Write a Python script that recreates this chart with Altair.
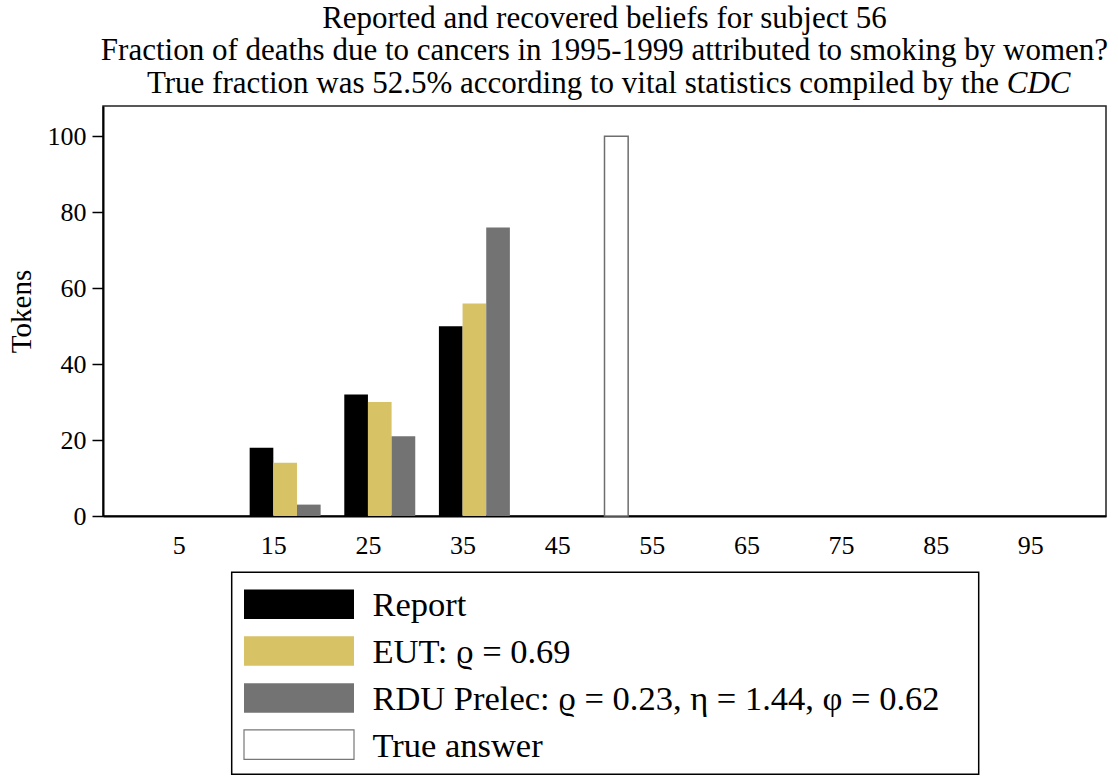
import altair as alt
import pandas as pd

# ---- data ----
bins = [5, 15, 25, 35, 45, 55, 65, 75, 85, 95]
report = [0, 18, 32, 50, 0, 0, 0, 0, 0, 0]
eut = [0, 14, 30, 56, 0, 0, 0, 0, 0, 0]
rdu = [0, 3, 21, 76, 0, 0, 0, 0, 0, 0]
true_answer = [52.5]
true_height = [100]
series = ["Report", "EUT: ϱ = 0.69", "RDU Prelec: ϱ = 0.23, η = 1.44, φ = 0.62", "True answer"]
colors = ["#000000", "#d8c266", "#737373", "#ffffff"]
title_lines = [
    "Reported and recovered beliefs for subject 56",
    "Fraction of deaths due to cancers in 1995-1999 attributed to smoking by women?",
    "True fraction was 52.5% according to vital statistics compiled by the",
]
title_italic = ["CDC"]
y_ticks = [0, 20, 40, 60, 80, 100]

FONT = "Liberation Serif"
W, H = 1003, 410

rows = []
for i, b in enumerate(bins):
    for k, vals in enumerate([report, eut, rdu]):
        rows.append({"bin": b, "series": series[k], "order": k, "value": vals[i]})
df = pd.DataFrame(rows)
df_true = pd.DataFrame({"x": true_answer, "value": true_height, "series": [series[3]]})
df_leg = pd.DataFrame({"label": series})

xscale = alt.Scale(domain=[-3, 103], nice=False, zero=False)
yscale = alt.Scale(domain=[0, 108], nice=False, zero=True)
cscale = alt.Scale(domain=series, range=colors)

bars = alt.Chart(df).transform_filter("datum.value > 0").transform_calculate(
    x0="datum.bin - 2.5 + 2.5 * datum.order",
    x1="datum.bin + 2.5 * datum.order",
).mark_bar().encode(
    x=alt.X("x0:Q", scale=xscale,
            axis=alt.Axis(values=bins, title=None, ticks=False, tickSize=0, grid=False,
                          labelFont=FONT, labelFontSize=26, labelColor="black",
                          labelPadding=16, domainColor="black", domainWidth=2)),
    x2="x1:Q",
    y=alt.Y("value:Q", scale=yscale,
            axis=alt.Axis(values=y_ticks, title="Tokens", grid=False, tickSize=11,
                          tickColor="black", tickWidth=1.5, labelFont=FONT, labelFontSize=26,
                          labelColor="black", labelPadding=6, domainColor="black",
                          domainWidth=2, titleFont=FONT, titleFontSize=29,
                          titleFontWeight="normal", titleColor="black", titleAngle=270,
                          titleX=-73, titleY=205, titleBaseline="alphabetic")),
    y2=alt.datum(0),
    color=alt.Color("series:N", scale=cscale, legend=None),
)

truebar = alt.Chart(df_true).transform_calculate(x0="datum.x - 2.5").mark_bar(
    fill="white", stroke="#6e6e6e", strokeWidth=1.5
).encode(
    x=alt.X("x0:Q", scale=xscale),
    x2="x:Q",
    y=alt.Y("value:Q", scale=yscale, axis=None),
    y2=alt.datum(0),
)

leg_scale = alt.Scale(range=[474.9, 662.1], paddingInner=0.37, paddingOuter=0.185)

legbox = alt.Chart(pd.DataFrame({"a": [0]})).mark_rect(
    fill="white", stroke="black", strokeWidth=1.5
).encode(
    x=alt.value(128.7), x2=alt.value(875.7), y=alt.value(466.3), y2=alt.value(668.3)
)

legsym = alt.Chart(df_leg).mark_rect(strokeWidth=1.2).encode(
    x=alt.value(141), x2=alt.value(251),
    y=alt.Y("label:N", sort=series, scale=leg_scale, axis=None),
    color=alt.Color("label:N", scale=cscale, legend=None),
    stroke=alt.condition(alt.datum.label == "True answer", alt.value("#777777"),
                         alt.value("transparent")),
)

legtxt = alt.Chart(df_leg).mark_text(
    font=FONT, fontSize=34.5, align="left", baseline="middle", color="black", dy=2
).encode(
    x=alt.value(269.4),
    y=alt.Y("label:N", sort=series, scale=leg_scale, axis=None),
    text="label:N",
)

def tline(txt, y, x=W / 2, align="center", style="normal", dx=0):
    return alt.Chart(pd.DataFrame({"t": [txt]})).mark_text(
        font=FONT, fontSize=31, align=align, baseline="alphabetic", color="black",
        fontStyle=style, dx=dx,
    ).encode(x=alt.value(x), y=alt.value(y), text="t:N")

split_x = W / 2 - 931.6 / 2 + 868 - 7.75
t1 = tline(title_lines[0], -78)
t2 = tline(title_lines[1], -46)
t3a = tline(title_lines[2], -13, x=split_x, align="right")
t3b = tline(title_italic[0], -13, x=split_x, align="left", style="italic", dx=7.75)

chart = alt.layer(bars, truebar, legbox, legsym, legtxt, t1, t2, t3a, t3b).resolve_scale(
    y="independent"
).properties(
    width=W, height=H,
    autosize=alt.AutoSizeParams(type="none"),
    padding={"left": 103, "top": 106, "right": 12, "bottom": 260},
    background="white",
).configure_view(stroke="#222222", strokeWidth=1.5)

chart.save("out.html", embed_options={"renderer": "svg", "actions": False})
